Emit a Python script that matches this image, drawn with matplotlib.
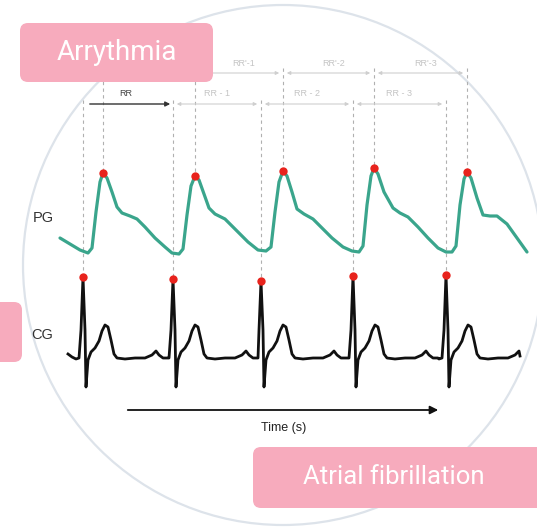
import matplotlib
matplotlib.use("Agg")
import matplotlib.pyplot as plt
from matplotlib.patches import Circle, FancyBboxPatch

# PPG trace (x px, y px from top)
ppg_x = [60, 70, 80, 88, 92, 96, 100, 103, 107, 112, 117, 122, 130, 137, 145, 155, 165, 172, 179,
         183, 187, 191, 195, 199, 204, 209, 215, 225, 235, 248, 258, 266,
         271, 275, 279, 283, 287, 292, 297, 304, 313, 322, 332, 343, 352, 359,
         363, 367, 371, 374, 378, 384, 393, 400, 408, 418, 428, 438, 446, 452,
         456, 460, 464, 467, 471, 477, 483, 490, 497, 507, 517, 527]
ppg_y = [238, 244, 250, 253, 248, 212, 182, 173, 178, 192, 207, 213, 216, 219, 227, 238, 247, 253, 254,
         249, 215, 186, 176, 180, 194, 208, 214, 219, 229, 242, 250, 251,
         247, 212, 182, 171, 176, 192, 209, 214, 219, 228, 238, 247, 251, 252,
         246, 205, 176, 168, 174, 192, 208, 213, 217, 227, 238, 248, 252, 252,
         246, 205, 179, 172, 178, 198, 215, 216, 216, 224, 238, 252]
ppg_peak_x = [103, 195, 283, 374, 467]
ppg_peak_y = [173, 176, 171, 168, 172]

# ECG: one beat template (offset from R peak, y px) and R peak positions
ecg_beat_dx = [-15, -11, -7, -4, -2, 0, 2, 3, 5, 8, 12, 16, 19, 22, 25, 28, 31, 34, 42, 52, 62, 69, 73, 76, 80, 85]
ecg_beat_y = [358, 357, 359, 358, 330, None, 330, 387, 360, 352, 348, 341, 331, 325, 327, 340, 354, 358, 359, 358, 358, 355, 351, 355, 358, 358]
r_peak_x = [83, 173, 261, 353, 446]
r_peak_y = [277, 279, 281, 276, 275]
ecg_start = (68, 354)
ecg_end = (520, 356)

rr_lower = ["RR", "RR - 1", "RR - 2", "RR - 3"]
rr_upper = ["RR'-1", "RR'-2", "RR'-3"]

fig = plt.figure(figsize=(5.37, 5.30), dpi=100)
ax = fig.add_axes([0, 0, 1, 1])
ax.set_xlim(0, 537)
ax.set_ylim(530, 0)
ax.axis("off")

ax.add_patch(Circle((283, 265), 260, fill=False, ec="#dde3ea", lw=1.6, zorder=1))

# build ecg trace
ex, ey = [ecg_start[0]], [ecg_start[1]]
for i in range(len(r_peak_x)):
    for dx, y in zip(ecg_beat_dx, ecg_beat_y):
        x = r_peak_x[i] + dx
        if x <= ex[-1] or x > ecg_end[0]:
            continue
        ex.append(x)
        ey.append(r_peak_y[i] if y is None else y)
ex.append(ecg_end[0])
ey.append(ecg_end[1])

# dashed guide lines
for x, y in zip(r_peak_x, r_peak_y):
    ax.plot([x, x], [100, y], ls=(0, (3, 3)), color="#b0b0b0", lw=0.8, zorder=2)
for x, y in zip(ppg_peak_x, ppg_peak_y):
    ax.plot([x, x], [68, y], ls=(0, (3, 3)), color="#b0b0b0", lw=0.8, zorder=2)

ax.plot(ppg_x, ppg_y, color="#3aa58c", lw=2.3, solid_joinstyle="round", solid_capstyle="round", zorder=3)
ax.plot(ex, ey, color="#111111", lw=2.0, solid_joinstyle="round", zorder=3)
ax.plot(ppg_peak_x, ppg_peak_y, "o", color="#e8231d", ms=6, mec="none", zorder=4)
ax.plot(r_peak_x, r_peak_y, "o", color="#e8231d", ms=6, mec="none", zorder=4)

# RR arrows
nf = ["Liberation Sans", "DejaVu Sans"]
for i in range(4):
    x0, x1 = r_peak_x[i], r_peak_x[i + 1]
    if i == 0:
        ax.annotate("", xy=(x1, 104), xytext=(x0 + 4, 104),
                    arrowprops=dict(arrowstyle="-|>", color="#333333", lw=1.0, mutation_scale=7))
        ax.text((x0 + x1) / 2 - 2, 98, rr_lower[i], ha="center", va="bottom", fontsize=6.5,
                color="#444444", family=nf)
    else:
        ax.annotate("", xy=(x1 - 1, 104), xytext=(x0 + 1, 104),
                    arrowprops=dict(arrowstyle="<|-|>", color="#cfcfcf", lw=0.8, mutation_scale=5))
        ax.text((x0 + x1) / 2, 98, rr_lower[i], ha="center", va="bottom", fontsize=6.5,
                color="#c4c4c4", family=nf)
    p0, p1 = ppg_peak_x[i], ppg_peak_x[i + 1]
    ax.annotate("", xy=(p1 - 1, 73), xytext=(p0 + 1, 73),
                arrowprops=dict(arrowstyle="<|-|>", color="#cfcfcf", lw=0.8, mutation_scale=5))
    if i > 0:
        ax.text((p0 + p1) / 2 + 5, 68, rr_upper[i - 1], ha="center", va="bottom", fontsize=6.5,
                color="#c4c4c4", family=nf)

ax.text(54, 218, "PG", ha="right", va="center", fontsize=10.5, color="#333333", family=nf)
ax.text(53, 335, "CG", ha="right", va="center", fontsize=10.5, color="#333333", family=nf)

ax.annotate("", xy=(441, 410), xytext=(125, 410),
            arrowprops=dict(arrowstyle="-|>", color="#111111", lw=1.3, mutation_scale=12))
ax.text(284, 428, "Time (s)", ha="center", va="center", fontsize=9, color="#222222", family=nf)

pink = "#f7abbd"
lab = ["Roboto", "DejaVu Sans"]
ax.add_patch(FancyBboxPatch((20, 23), 193, 59, boxstyle="round,pad=0,rounding_size=8",
                            fc=pink, ec="none", zorder=5))
ax.text(117, 52, "Arrythmia", ha="center", va="center", fontsize=20, color="white",
        family=lab, zorder=6)
ax.add_patch(FancyBboxPatch((253, 447), 300, 61, boxstyle="round,pad=0,rounding_size=8",
                            fc=pink, ec="none", zorder=5))
ax.text(394, 477, "Atrial fibrillation", ha="center", va="center", fontsize=18.5, color="white",
        family=lab, zorder=6)
ax.add_patch(FancyBboxPatch((-20, 302), 42, 60, boxstyle="round,pad=0,rounding_size=8",
                            fc=pink, ec="none", zorder=5))

fig.savefig("out.png", dpi=100)
